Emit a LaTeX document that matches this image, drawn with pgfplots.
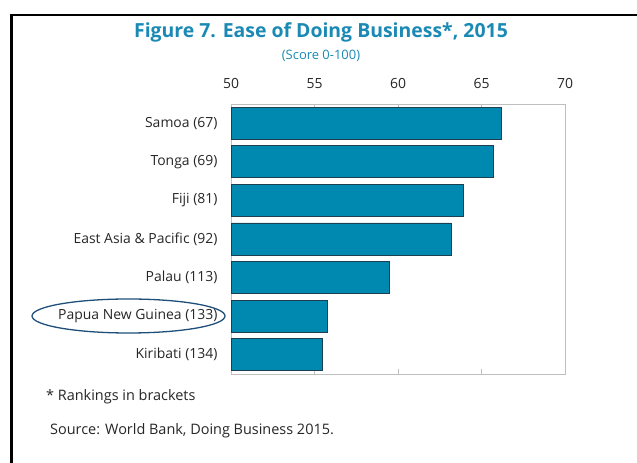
\documentclass[border=0pt]{standalone}
\usepackage{fontspec}
\setmainfont{Open Sans}
\usepackage{pgfplots}
\pgfplotsset{compat=1.18}
\definecolor{barc}{HTML}{0089B0}
\definecolor{barline}{HTML}{1E3F4F}
\definecolor{titc}{HTML}{1A8AB5}
\definecolor{ellc}{HTML}{1F4E79}
\definecolor{axc}{HTML}{BFBFBF}
\definecolor{txt}{HTML}{262626}
\begin{document}
\begin{tikzpicture}[x=1bp,y=1bp]
\path[use as bounding box] (0,0) rectangle (637,463);
\draw[line width=2.5bp] (11.5,-2) -- (11.5,448) -- (640,448);
\node[font=\fontsize{19.5}{22}\selectfont\bfseries, text=titc] at (321,431) {Figure 7. Ease of Doing Business*, 2015};
\node[font=\fontsize{13}{15}\selectfont, text=titc] at (321,407) {(Score 0-100)};
\begin{axis}[
  at={(231bp,89bp)}, anchor=south west,
  scale only axis, width=334bp, height=270bp,
  xbar, bar width=32bp,
  xmin=50, xmax=70, ymin=-0.5, ymax=6.5,
  xtick={50,55,60,65,70},
  xticklabel pos=right,
  tick align=inside,
  major tick length=5bp,
  minor tick length=5bp,
  axis line style={axc},
  every tick/.style={axc},
  ytick={0,...,6},
  yticklabels={Kiribati (134),Papua New Guinea (133),Palau (113),East Asia \& Pacific (92),Fiji (81),Tonga (69),Samoa (67)},
  ytick style={draw=none},
  minor ytick={0.5,1.5,...,5.5},
  yticklabel style={font=\fontsize{14}{16}\selectfont, text=txt, xshift=-10bp},
  xticklabel style={font=\fontsize{14}{16}\selectfont, text=txt, yshift=12bp},
  /pgf/number format/assume math mode=true,
  clip=true,
]
\addplot[fill=barc, draw=barline, line width=0.9bp] coordinates {
(55.5,0) (55.8,1) (59.5,2) (63.2,3) (63.9,4) (65.7,5) (66.2,6)};
\end{axis}
\draw[ellc, line width=1.3bp] (128.5,147) ellipse [x radius=96.5, y radius=17];
\node[anchor=west, inner sep=0, font=\fontsize{14.5}{16}\selectfont, text=txt] at (46,66) {* Rankings in brackets};
\node[anchor=west, inner sep=0, font=\fontsize{14.5}{16}\selectfont, text=txt] at (50,32) {Source: World Bank, Doing Business 2015.};
\end{tikzpicture}
\end{document}
